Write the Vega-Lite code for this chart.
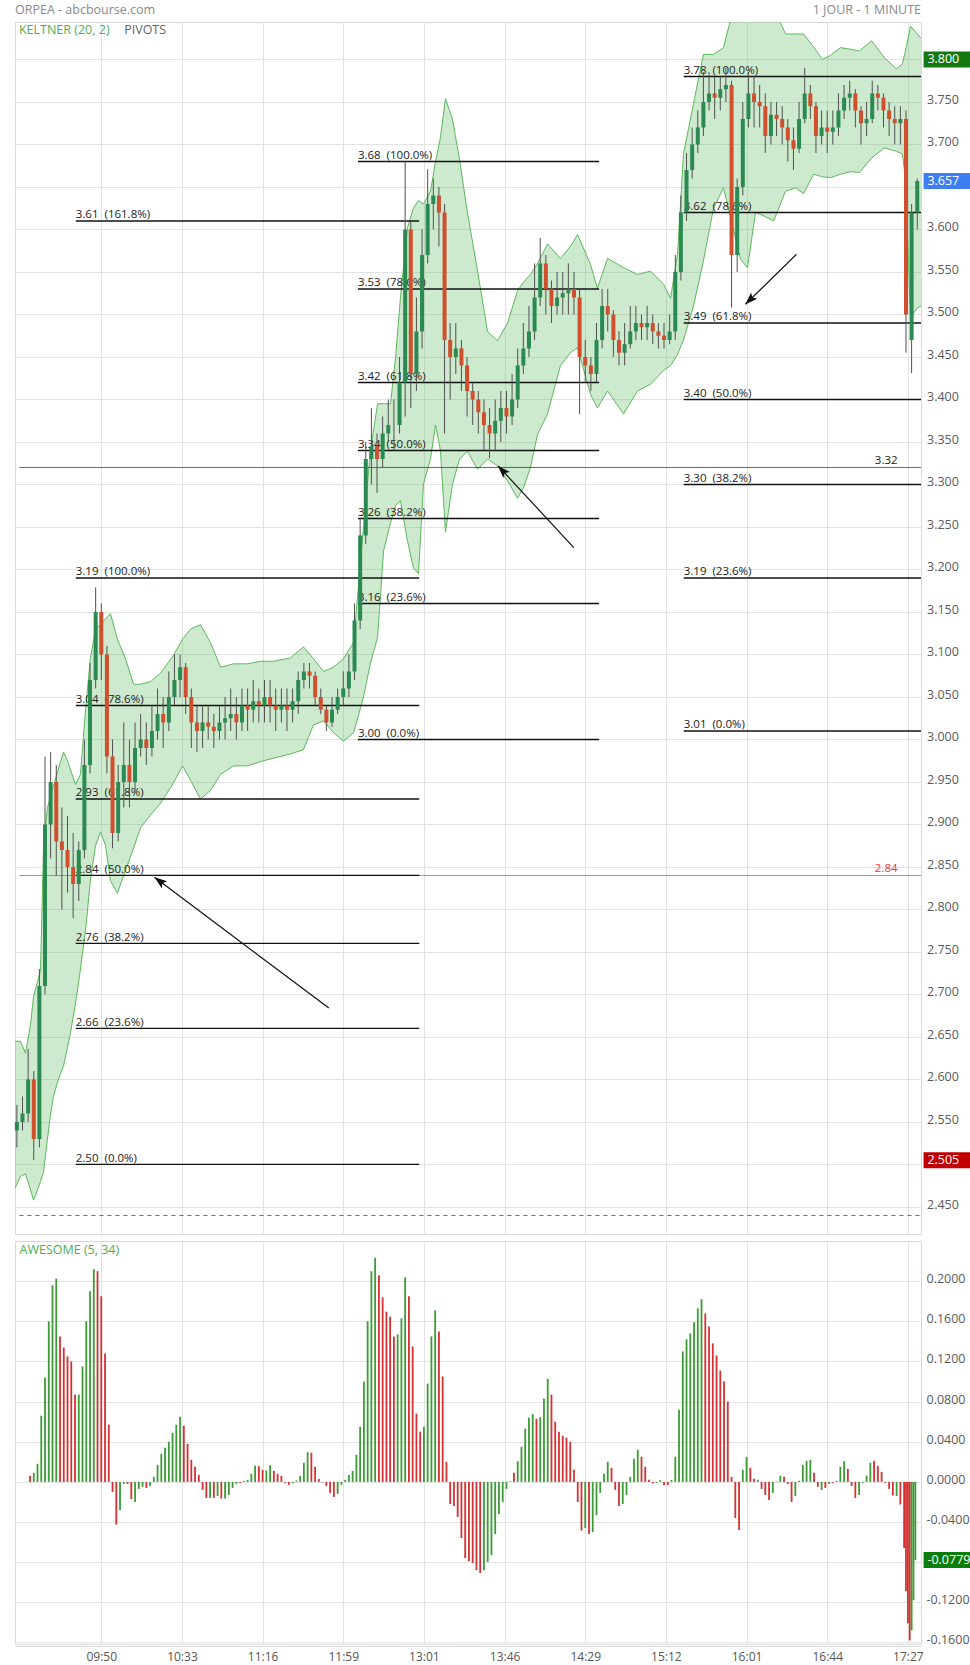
{
  "$schema": "https://vega.github.io/schema/vega-lite/v6.json",
  "background": "#ffffff",
  "padding": {"left": 14, "top": 3, "right": 0, "bottom": 0},
  "autosize": {"type": "pad"},
  "config": {
    "font": "Open Sans",
    "view": {"stroke": "#d9d9d9", "strokeWidth": 1},
    "axis": {"domain": false, "ticks": false, "tickSize": 0, "gridColor": "#e3e3e3", "gridWidth": 1, "labelFont": "Open Sans", "labelColor": "#5a5a5a", "labelFontSize": 12.5}
  },
  "spacing": 5,
  "datasets": {
    "candles": [
      {"i":1,"o":2.54,"h":2.57,"l":2.52,"c":2.55},{"i":4,"o":2.55,"h":2.58,"l":2.54,"c":2.56},{"i":7,"o":2.56,"h":2.636,"l":2.55,"c":2.6},{"i":10,"o":2.6,"h":2.61,"l":2.505,"c":2.53},
      {"i":13,"o":2.53,"h":2.73,"l":2.52,"c":2.71},{"i":16,"o":2.71,"h":2.98,"l":2.7,"c":2.9},{"i":19,"o":2.9,"h":2.985,"l":2.86,"c":2.95},{"i":22,"o":2.95,"h":2.97,"l":2.84,"c":2.88},
      {"i":25,"o":2.88,"h":2.92,"l":2.8,"c":2.87},{"i":28,"o":2.87,"h":2.91,"l":2.82,"c":2.85},{"i":31,"o":2.85,"h":2.89,"l":2.79,"c":2.83},{"i":34,"o":2.83,"h":2.88,"l":2.81,"c":2.87},
      {"i":37,"o":2.87,"h":3.0,"l":2.86,"c":2.97},{"i":40,"o":2.97,"h":3.09,"l":2.96,"c":3.07},{"i":43,"o":3.07,"h":3.179,"l":3.06,"c":3.15},{"i":46,"o":3.15,"h":3.16,"l":3.07,"c":3.1},
      {"i":49,"o":3.1,"h":3.11,"l":2.96,"c":2.98},{"i":52,"o":2.98,"h":3.0,"l":2.872,"c":2.89},{"i":55,"o":2.89,"h":2.97,"l":2.88,"c":2.95},{"i":58,"o":2.95,"h":3.02,"l":2.92,"c":2.97},
      {"i":61,"o":2.97,"h":3.0,"l":2.92,"c":2.95},{"i":64,"o":2.95,"h":3.02,"l":2.94,"c":2.99},{"i":67,"o":2.99,"h":3.03,"l":2.98,"c":3.0},{"i":70,"o":3.0,"h":3.02,"l":2.97,"c":2.99},
      {"i":73,"o":2.99,"h":3.04,"l":2.98,"c":3.01},{"i":76,"o":3.01,"h":3.06,"l":3.0,"c":3.03},{"i":79,"o":3.03,"h":3.05,"l":2.99,"c":3.02},{"i":82,"o":3.02,"h":3.08,"l":3.01,"c":3.05},
      {"i":85,"o":3.05,"h":3.1,"l":3.04,"c":3.07},{"i":88,"o":3.07,"h":3.1,"l":3.05,"c":3.085},{"i":91,"o":3.085,"h":3.09,"l":3.03,"c":3.05},{"i":94,"o":3.05,"h":3.06,"l":2.99,"c":3.02},
      {"i":97,"o":3.02,"h":3.04,"l":2.985,"c":3.01},{"i":100,"o":3.01,"h":3.04,"l":2.99,"c":3.02},{"i":103,"o":3.02,"h":3.04,"l":3.0,"c":3.015},{"i":106,"o":3.015,"h":3.03,"l":2.99,"c":3.01},
      {"i":109,"o":3.01,"h":3.04,"l":3.0,"c":3.02},{"i":112,"o":3.02,"h":3.05,"l":3.0,"c":3.025},{"i":115,"o":3.025,"h":3.06,"l":3.01,"c":3.03},{"i":118,"o":3.03,"h":3.05,"l":3.0,"c":3.02},
      {"i":121,"o":3.02,"h":3.06,"l":3.01,"c":3.04},{"i":124,"o":3.04,"h":3.06,"l":3.01,"c":3.035},{"i":127,"o":3.035,"h":3.07,"l":3.02,"c":3.045},{"i":130,"o":3.045,"h":3.06,"l":3.02,"c":3.04},
      {"i":133,"o":3.04,"h":3.07,"l":3.02,"c":3.05},{"i":136,"o":3.05,"h":3.07,"l":3.02,"c":3.04},{"i":139,"o":3.04,"h":3.06,"l":3.01,"c":3.035},{"i":142,"o":3.035,"h":3.06,"l":3.02,"c":3.04},
      {"i":145,"o":3.04,"h":3.06,"l":3.01,"c":3.035},{"i":148,"o":3.035,"h":3.06,"l":3.02,"c":3.045},{"i":151,"o":3.045,"h":3.08,"l":3.03,"c":3.07},{"i":154,"o":3.07,"h":3.09,"l":3.06,"c":3.08},
      {"i":157,"o":3.08,"h":3.09,"l":3.06,"c":3.075},{"i":160,"o":3.075,"h":3.08,"l":3.04,"c":3.05},{"i":163,"o":3.05,"h":3.06,"l":3.03,"c":3.035},{"i":166,"o":3.035,"h":3.04,"l":3.01,"c":3.02},
      {"i":169,"o":3.02,"h":3.05,"l":3.015,"c":3.035},{"i":172,"o":3.035,"h":3.06,"l":3.03,"c":3.05},{"i":175,"o":3.05,"h":3.08,"l":3.04,"c":3.06},{"i":178,"o":3.06,"h":3.1,"l":3.05,"c":3.08},
      {"i":181,"o":3.08,"h":3.16,"l":3.07,"c":3.14},{"i":184,"o":3.14,"h":3.26,"l":3.13,"c":3.24},{"i":187,"o":3.24,"h":3.35,"l":3.23,"c":3.33},{"i":190,"o":3.33,"h":3.39,"l":3.3,"c":3.345},
      {"i":193,"o":3.345,"h":3.36,"l":3.29,"c":3.33},{"i":196,"o":3.33,"h":3.38,"l":3.32,"c":3.36},{"i":199,"o":3.36,"h":3.4,"l":3.35,"c":3.37},{"i":202,"o":3.37,"h":3.4,"l":3.34,"c":3.37},
      {"i":205,"o":3.37,"h":3.45,"l":3.36,"c":3.42},{"i":208,"o":3.42,"h":3.68,"l":3.38,"c":3.6},{"i":211,"o":3.6,"h":3.61,"l":3.39,"c":3.43},{"i":214,"o":3.43,"h":3.52,"l":3.41,"c":3.48},
      {"i":217,"o":3.48,"h":3.6,"l":3.46,"c":3.57},{"i":220,"o":3.57,"h":3.671,"l":3.56,"c":3.63},{"i":223,"o":3.63,"h":3.66,"l":3.6,"c":3.64},{"i":226,"o":3.64,"h":3.65,"l":3.58,"c":3.62},
      {"i":229,"o":3.62,"h":3.63,"l":3.36,"c":3.47},{"i":232,"o":3.47,"h":3.49,"l":3.4,"c":3.45},{"i":235,"o":3.45,"h":3.49,"l":3.43,"c":3.46},{"i":238,"o":3.46,"h":3.47,"l":3.41,"c":3.44},
      {"i":241,"o":3.44,"h":3.45,"l":3.38,"c":3.41},{"i":244,"o":3.41,"h":3.42,"l":3.37,"c":3.4},{"i":247,"o":3.4,"h":3.41,"l":3.36,"c":3.385},{"i":250,"o":3.385,"h":3.4,"l":3.34,"c":3.37},
      {"i":253,"o":3.37,"h":3.39,"l":3.331,"c":3.36},{"i":256,"o":3.36,"h":3.4,"l":3.34,"c":3.375},{"i":259,"o":3.375,"h":3.41,"l":3.35,"c":3.39},{"i":262,"o":3.39,"h":3.41,"l":3.36,"c":3.38},
      {"i":265,"o":3.38,"h":3.43,"l":3.37,"c":3.4},{"i":268,"o":3.4,"h":3.46,"l":3.39,"c":3.44},{"i":271,"o":3.44,"h":3.49,"l":3.43,"c":3.46},{"i":274,"o":3.46,"h":3.51,"l":3.45,"c":3.48},
      {"i":277,"o":3.48,"h":3.56,"l":3.47,"c":3.52},{"i":280,"o":3.52,"h":3.59,"l":3.51,"c":3.56},{"i":283,"o":3.56,"h":3.57,"l":3.5,"c":3.53},{"i":286,"o":3.53,"h":3.54,"l":3.49,"c":3.51},
      {"i":289,"o":3.51,"h":3.55,"l":3.5,"c":3.52},{"i":292,"o":3.52,"h":3.55,"l":3.5,"c":3.525},{"i":295,"o":3.525,"h":3.56,"l":3.5,"c":3.53},{"i":298,"o":3.53,"h":3.55,"l":3.5,"c":3.52},
      {"i":301,"o":3.52,"h":3.53,"l":3.383,"c":3.45},{"i":304,"o":3.45,"h":3.47,"l":3.42,"c":3.44},{"i":307,"o":3.44,"h":3.45,"l":3.41,"c":3.43},{"i":310,"o":3.43,"h":3.49,"l":3.42,"c":3.47},
      {"i":313,"o":3.47,"h":3.53,"l":3.46,"c":3.51},{"i":316,"o":3.51,"h":3.53,"l":3.48,"c":3.5},{"i":319,"o":3.5,"h":3.505,"l":3.45,"c":3.47},{"i":322,"o":3.47,"h":3.48,"l":3.44,"c":3.455},
      {"i":325,"o":3.455,"h":3.49,"l":3.44,"c":3.465},{"i":328,"o":3.465,"h":3.51,"l":3.46,"c":3.48},{"i":331,"o":3.48,"h":3.51,"l":3.47,"c":3.49},{"i":334,"o":3.49,"h":3.5,"l":3.47,"c":3.485},
      {"i":337,"o":3.485,"h":3.51,"l":3.47,"c":3.49},{"i":340,"o":3.49,"h":3.5,"l":3.465,"c":3.48},{"i":343,"o":3.48,"h":3.49,"l":3.46,"c":3.475},{"i":346,"o":3.475,"h":3.49,"l":3.46,"c":3.47},
      {"i":349,"o":3.47,"h":3.5,"l":3.465,"c":3.48},{"i":352,"o":3.48,"h":3.57,"l":3.47,"c":3.55},{"i":355,"o":3.55,"h":3.64,"l":3.54,"c":3.62},{"i":358,"o":3.62,"h":3.69,"l":3.61,"c":3.67},
      {"i":361,"o":3.67,"h":3.72,"l":3.66,"c":3.7},{"i":364,"o":3.7,"h":3.74,"l":3.69,"c":3.72},{"i":367,"o":3.72,"h":3.785,"l":3.71,"c":3.75},{"i":370,"o":3.75,"h":3.785,"l":3.74,"c":3.76},
      {"i":373,"o":3.76,"h":3.78,"l":3.73,"c":3.755},{"i":376,"o":3.755,"h":3.78,"l":3.74,"c":3.765},{"i":379,"o":3.765,"h":3.79,"l":3.75,"c":3.77},{"i":382,"o":3.77,"h":3.775,"l":3.508,"c":3.57},
      {"i":385,"o":3.57,"h":3.66,"l":3.55,"c":3.65},{"i":388,"o":3.65,"h":3.75,"l":3.64,"c":3.73},{"i":391,"o":3.73,"h":3.785,"l":3.72,"c":3.76},{"i":394,"o":3.76,"h":3.78,"l":3.72,"c":3.75},
      {"i":397,"o":3.75,"h":3.77,"l":3.72,"c":3.745},{"i":400,"o":3.745,"h":3.76,"l":3.69,"c":3.71},{"i":403,"o":3.71,"h":3.75,"l":3.7,"c":3.735},{"i":406,"o":3.735,"h":3.75,"l":3.71,"c":3.73},
      {"i":409,"o":3.73,"h":3.745,"l":3.7,"c":3.72},{"i":412,"o":3.72,"h":3.73,"l":3.68,"c":3.705},{"i":415,"o":3.705,"h":3.72,"l":3.67,"c":3.695},{"i":418,"o":3.695,"h":3.75,"l":3.69,"c":3.73},
      {"i":421,"o":3.73,"h":3.79,"l":3.725,"c":3.76},{"i":424,"o":3.76,"h":3.77,"l":3.73,"c":3.745},{"i":427,"o":3.745,"h":3.75,"l":3.69,"c":3.71},{"i":430,"o":3.71,"h":3.74,"l":3.7,"c":3.72},
      {"i":433,"o":3.72,"h":3.74,"l":3.69,"c":3.715},{"i":436,"o":3.715,"h":3.74,"l":3.7,"c":3.72},{"i":439,"o":3.72,"h":3.76,"l":3.71,"c":3.74},{"i":442,"o":3.74,"h":3.77,"l":3.73,"c":3.755},
      {"i":445,"o":3.755,"h":3.775,"l":3.74,"c":3.76},{"i":448,"o":3.76,"h":3.765,"l":3.72,"c":3.74},{"i":451,"o":3.74,"h":3.745,"l":3.7,"c":3.725},{"i":454,"o":3.725,"h":3.75,"l":3.71,"c":3.73},
      {"i":457,"o":3.73,"h":3.775,"l":3.725,"c":3.76},{"i":460,"o":3.76,"h":3.77,"l":3.74,"c":3.755},{"i":463,"o":3.755,"h":3.76,"l":3.72,"c":3.74},{"i":466,"o":3.74,"h":3.75,"l":3.71,"c":3.73},
      {"i":469,"o":3.73,"h":3.745,"l":3.7,"c":3.725},{"i":472,"o":3.725,"h":3.745,"l":3.7,"c":3.73},{"i":475,"o":3.73,"h":3.74,"l":3.455,"c":3.5},{"i":478,"o":3.47,"h":3.63,"l":3.431,"c":3.62},
      {"i":481,"o":3.62,"h":3.66,"l":3.6,"c":3.657}
    ],
    "band": [
      {"i":0,"u":2.645,"l":2.472},{"i":2.9,"u":2.645,"l":2.486},{"i":5.6,"u":2.631,"l":2.489},{"i":8.3,"u":2.665,"l":2.47},{"i":9.9,"u":2.698,"l":2.458},
      {"i":12,"u":2.715,"l":2.47},{"i":13.6,"u":2.728,"l":2.48},{"i":15.2,"u":2.872,"l":2.491},{"i":17.3,"u":2.92,"l":2.53},{"i":18.9,"u":2.932,"l":2.558},
      {"i":20.5,"u":2.945,"l":2.58},{"i":22.7,"u":2.962,"l":2.597},{"i":24.3,"u":2.974,"l":2.607},{"i":25.9,"u":2.985,"l":2.616},{"i":28,"u":2.975,"l":2.638},
      {"i":29.6,"u":2.964,"l":2.655},{"i":32.3,"u":2.947,"l":2.69},{"i":34.9,"u":2.959,"l":2.73},{"i":37.6,"u":3.035,"l":2.775},{"i":40.2,"u":3.095,"l":2.834},
      {"i":42.9,"u":3.13,"l":2.875},{"i":45.6,"u":3.135,"l":2.891},{"i":48.2,"u":3.142,"l":2.876},{"i":50.9,"u":3.148,"l":2.834},{"i":54.6,"u":3.118,"l":2.819},
      {"i":58.9,"u":3.095,"l":2.846},{"i":63.2,"u":3.065,"l":2.872},{"i":66.9,"u":3.065,"l":2.896},{"i":72.2,"u":3.068,"l":2.911},{"i":77.6,"u":3.078,"l":2.925},
      {"i":84.5,"u":3.099,"l":2.949},{"i":89.3,"u":3.118,"l":2.969},{"i":93.6,"u":3.13,"l":2.952},{"i":98.9,"u":3.135,"l":2.93},{"i":104.2,"u":3.114,"l":2.94},
      {"i":109.6,"u":3.085,"l":2.959},{"i":116.5,"u":3.089,"l":2.969},{"i":123.9,"u":3.089,"l":2.969},{"i":130.9,"u":3.092,"l":2.974},{"i":137.8,"u":3.092,"l":2.978},
      {"i":146.9,"u":3.096,"l":2.983},{"i":153.8,"u":3.109,"l":2.988},{"i":159.1,"u":3.095,"l":3.017},{"i":164.5,"u":3.08,"l":3.022},{"i":169.8,"u":3.085,"l":3.008},
      {"i":175.1,"u":3.095,"l":2.998},{"i":180.5,"u":3.114,"l":3.008},{"i":185.8,"u":3.25,"l":3.05},{"i":189.5,"u":3.34,"l":3.09},{"i":193.3,"u":3.395,"l":3.12},
      {"i":196.5,"u":3.395,"l":3.222},{"i":200.2,"u":3.395,"l":3.255},{"i":202.9,"u":3.45,"l":3.275},{"i":205.5,"u":3.52,"l":3.281},{"i":209.2,"u":3.602,"l":3.234},
      {"i":212.4,"u":3.625,"l":3.202},{"i":215.1,"u":3.634,"l":3.195},{"i":217.8,"u":3.63,"l":3.301},{"i":221.5,"u":3.645,"l":3.33},{"i":224.2,"u":3.68,"l":3.37},
      {"i":226.8,"u":3.708,"l":3.34},{"i":229.5,"u":3.754,"l":3.244},{"i":233.2,"u":3.73,"l":3.3},{"i":237,"u":3.682,"l":3.33},{"i":241.2,"u":3.62,"l":3.339},
      {"i":246.6,"u":3.551,"l":3.318},{"i":251.9,"u":3.48,"l":3.33},{"i":257.2,"u":3.469,"l":3.322},{"i":262.6,"u":3.49,"l":3.304},{"i":267.9,"u":3.528,"l":3.284},
      {"i":271.1,"u":3.538,"l":3.296},{"i":274.8,"u":3.547,"l":3.32},{"i":278.6,"u":3.56,"l":3.359},{"i":283.9,"u":3.583,"l":3.383},{"i":290.8,"u":3.566,"l":3.44},
      {"i":296.1,"u":3.58,"l":3.455},{"i":299.9,"u":3.594,"l":3.461},{"i":306.8,"u":3.559,"l":3.406},{"i":310.5,"u":3.531,"l":3.39},{"i":315.9,"u":3.566,"l":3.41},
      {"i":324.4,"u":3.555,"l":3.383},{"i":331.9,"u":3.547,"l":3.41},{"i":338.8,"u":3.551,"l":3.418},{"i":345.7,"u":3.536,"l":3.434},{"i":349.5,"u":3.519,"l":3.44},
      {"i":353.2,"u":3.571,"l":3.453},{"i":356.4,"u":3.689,"l":3.47},{"i":361.7,"u":3.748,"l":3.51},{"i":367,"u":3.806,"l":3.563},{"i":372.4,"u":3.806,"l":3.625},
      {"i":377.7,"u":3.814,"l":3.649},{"i":383,"u":3.86,"l":3.6},{"i":386.8,"u":3.87,"l":3.565},{"i":390.5,"u":3.87,"l":3.555},{"i":394.8,"u":3.87,"l":3.62},
      {"i":400.1,"u":3.87,"l":3.615},{"i":404.4,"u":3.86,"l":3.61},{"i":410.8,"u":3.83,"l":3.645},{"i":416.1,"u":3.83,"l":3.649},{"i":420.4,"u":3.83,"l":3.642},
      {"i":425.7,"u":3.815,"l":3.665},{"i":430.5,"u":3.8,"l":3.662},{"i":434.8,"u":3.805,"l":3.661},{"i":440.1,"u":3.814,"l":3.665},{"i":445.4,"u":3.812,"l":3.668},
      {"i":450.2,"u":3.81,"l":3.667},{"i":456.6,"u":3.822,"l":3.684},{"i":463.5,"u":3.802,"l":3.696},{"i":469.9,"u":3.789,"l":3.692},{"i":473.1,"u":3.795,"l":3.689},
      {"i":474.7,"u":3.81,"l":3.66},{"i":477.4,"u":3.839,"l":3.496},{"i":481.1,"u":3.83,"l":3.508},{"i":483,"u":3.825,"l":3.51}
    ],
    "ao": [
      {"i":8,"v":0.006,"m":"d"},{"i":10,"v":0.009,"m":"u"},{"i":12,"v":0.018,"m":"u"},{"i":14,"v":0.066,"m":"u"},{"i":16,"v":0.104,"m":"u"},{"i":18,"v":0.16,"m":"u"},
      {"i":20,"v":0.196,"m":"u"},{"i":22,"v":0.2025,"m":"u"},{"i":24,"v":0.145,"m":"d"},{"i":26,"v":0.134,"m":"d"},{"i":28,"v":0.125,"m":"d"},{"i":30,"v":0.12,"m":"d"},
      {"i":32,"v":0.087,"m":"d"},{"i":34,"v":0.087,"m":"u"},{"i":36,"v":0.115,"m":"u"},{"i":38,"v":0.16,"m":"u"},{"i":40,"v":0.19,"m":"u"},{"i":42,"v":0.212,"m":"u"},
      {"i":44,"v":0.21,"m":"d"},{"i":46,"v":0.185,"m":"d"},{"i":48,"v":0.128,"m":"d"},{"i":50,"v":0.057,"m":"d"},{"i":52,"v":-0.01,"m":"d"},{"i":54,"v":-0.0426,"m":"d"},
      {"i":56,"v":-0.028,"m":"u"},{"i":58,"v":-0.002,"m":"u"},{"i":60,"v":-0.002,"m":"d"},{"i":62,"v":-0.017,"m":"d"},{"i":64,"v":-0.02,"m":"u"},{"i":66,"v":-0.007,"m":"u"},
      {"i":68,"v":-0.005,"m":"u"},{"i":70,"v":-0.006,"m":"d"},{"i":72,"v":-0.004,"m":"u"},{"i":74,"v":0.005,"m":"u"},{"i":76,"v":0.017,"m":"u"},{"i":78,"v":0.028,"m":"u"},
      {"i":80,"v":0.034,"m":"u"},{"i":82,"v":0.04,"m":"u"},{"i":84,"v":0.049,"m":"u"},{"i":86,"v":0.057,"m":"u"},{"i":88,"v":0.065,"m":"u"},{"i":90,"v":0.056,"m":"d"},
      {"i":92,"v":0.038,"m":"d"},{"i":94,"v":0.022,"m":"d"},{"i":96,"v":0.015,"m":"d"},{"i":98,"v":0.007,"m":"d"},{"i":100,"v":-0.008,"m":"d"},{"i":102,"v":-0.016,"m":"d"},
      {"i":104,"v":-0.016,"m":"u"},{"i":106,"v":-0.016,"m":"d"},{"i":108,"v":-0.014,"m":"u"},{"i":110,"v":-0.0166,"m":"d"},{"i":112,"v":-0.0166,"m":"u"},{"i":114,"v":-0.013,"m":"u"},
      {"i":116,"v":-0.006,"m":"u"},{"i":118,"v":-0.002,"m":"u"},{"i":120,"v":-0.001,"m":"d"},{"i":122,"v":0.001,"m":"u"},{"i":124,"v":0.002,"m":"u"},{"i":126,"v":0.008,"m":"u"},
      {"i":128,"v":0.016,"m":"u"},{"i":130,"v":0.0156,"m":"d"},{"i":132,"v":0.012,"m":"d"},{"i":134,"v":0.0115,"m":"u"},{"i":136,"v":0.0166,"m":"u"},{"i":138,"v":0.011,"m":"d"},
      {"i":140,"v":0.008,"m":"d"},{"i":142,"v":0.006,"m":"d"},{"i":144,"v":-0.001,"m":"d"},{"i":146,"v":-0.003,"m":"d"},{"i":148,"v":-0.0015,"m":"u"},{"i":150,"v":0.0013,"m":"u"},
      {"i":152,"v":0.006,"m":"u"},{"i":154,"v":0.019,"m":"u"},{"i":156,"v":0.0296,"m":"u"},{"i":158,"v":0.029,"m":"d"},{"i":160,"v":0.015,"m":"d"},{"i":162,"v":0.003,"m":"d"},
      {"i":164,"v":-0.0005,"m":"d"},{"i":166,"v":-0.004,"m":"d"},{"i":168,"v":-0.011,"m":"d"},{"i":170,"v":-0.015,"m":"d"},{"i":172,"v":-0.012,"m":"u"},{"i":174,"v":-0.003,"m":"u"},
      {"i":176,"v":0.002,"m":"u"},{"i":178,"v":0.007,"m":"u"},{"i":180,"v":0.011,"m":"u"},{"i":182,"v":0.027,"m":"u"},{"i":184,"v":0.055,"m":"u"},{"i":186,"v":0.1,"m":"u"},
      {"i":188,"v":0.16,"m":"u"},{"i":190,"v":0.21,"m":"u"},{"i":192,"v":0.2234,"m":"u"},{"i":194,"v":0.206,"m":"d"},{"i":196,"v":0.184,"m":"d"},{"i":198,"v":0.1696,"m":"d"},
      {"i":200,"v":0.1646,"m":"d"},{"i":202,"v":0.145,"m":"d"},{"i":204,"v":0.147,"m":"u"},{"i":206,"v":0.163,"m":"u"},{"i":208,"v":0.204,"m":"u"},{"i":210,"v":0.185,"m":"d"},
      {"i":212,"v":0.135,"m":"d"},{"i":214,"v":0.068,"m":"d"},{"i":216,"v":0.05,"m":"d"},{"i":218,"v":0.055,"m":"u"},{"i":220,"v":0.098,"m":"u"},{"i":222,"v":0.145,"m":"u"},
      {"i":224,"v":0.171,"m":"u"},{"i":226,"v":0.15,"m":"d"},{"i":228,"v":0.105,"m":"d"},{"i":230,"v":0.02,"m":"d"},{"i":232,"v":-0.022,"m":"d"},{"i":234,"v":-0.024,"m":"d"},
      {"i":236,"v":-0.035,"m":"d"},{"i":238,"v":-0.056,"m":"d"},{"i":240,"v":-0.076,"m":"d"},{"i":242,"v":-0.079,"m":"d"},{"i":244,"v":-0.081,"m":"d"},{"i":246,"v":-0.088,"m":"d"},
      {"i":248,"v":-0.0908,"m":"d"},{"i":250,"v":-0.088,"m":"u"},{"i":252,"v":-0.08,"m":"u"},{"i":254,"v":-0.073,"m":"u"},{"i":256,"v":-0.052,"m":"u"},{"i":258,"v":-0.032,"m":"u"},
      {"i":260,"v":-0.02,"m":"u"},{"i":262,"v":-0.007,"m":"u"},{"i":264,"v":0.0007,"m":"u"},{"i":266,"v":0.009,"m":"d"},{"i":268,"v":0.0206,"m":"u"},{"i":270,"v":0.035,"m":"u"},
      {"i":272,"v":0.053,"m":"u"},{"i":274,"v":0.064,"m":"u"},{"i":276,"v":0.0675,"m":"u"},{"i":278,"v":0.063,"m":"d"},{"i":280,"v":0.0645,"m":"u"},{"i":282,"v":0.083,"m":"u"},
      {"i":284,"v":0.1027,"m":"u"},{"i":286,"v":0.087,"m":"d"},{"i":288,"v":0.06,"m":"d"},{"i":290,"v":0.05,"m":"d"},{"i":292,"v":0.046,"m":"d"},{"i":294,"v":0.044,"m":"d"},
      {"i":296,"v":0.04,"m":"d"},{"i":298,"v":0.012,"m":"d"},{"i":300,"v":-0.02,"m":"d"},{"i":302,"v":-0.0485,"m":"d"},{"i":304,"v":-0.046,"m":"u"},{"i":306,"v":-0.052,"m":"d"},
      {"i":308,"v":-0.05,"m":"u"},{"i":310,"v":-0.033,"m":"u"},{"i":312,"v":-0.011,"m":"u"},{"i":314,"v":0.008,"m":"u"},{"i":316,"v":0.02,"m":"u"},{"i":318,"v":0.014,"m":"d"},
      {"i":320,"v":-0.008,"m":"d"},{"i":322,"v":-0.024,"m":"d"},{"i":324,"v":-0.022,"m":"u"},{"i":326,"v":-0.013,"m":"u"},{"i":328,"v":0.005,"m":"u"},{"i":330,"v":0.023,"m":"u"},
      {"i":332,"v":0.032,"m":"u"},{"i":334,"v":0.025,"m":"d"},{"i":336,"v":0.015,"m":"d"},{"i":338,"v":0.002,"m":"d"},{"i":340,"v":-0.0015,"m":"d"},{"i":342,"v":-0.001,"m":"u"},
      {"i":344,"v":0.0017,"m":"u"},{"i":346,"v":-0.0033,"m":"d"},{"i":348,"v":-0.0033,"m":"d"},{"i":350,"v":0.002,"m":"u"},{"i":352,"v":0.025,"m":"u"},{"i":354,"v":0.072,"m":"u"},
      {"i":356,"v":0.13,"m":"u"},{"i":358,"v":0.142,"m":"u"},{"i":360,"v":0.148,"m":"u"},{"i":362,"v":0.159,"m":"u"},{"i":364,"v":0.173,"m":"u"},{"i":366,"v":0.182,"m":"u"},
      {"i":368,"v":0.168,"m":"d"},{"i":370,"v":0.155,"m":"d"},{"i":372,"v":0.138,"m":"d"},{"i":374,"v":0.126,"m":"d"},{"i":376,"v":0.111,"m":"d"},{"i":378,"v":0.1,"m":"d"},
      {"i":380,"v":0.08,"m":"d"},{"i":382,"v":0.005,"m":"d"},{"i":384,"v":-0.036,"m":"d"},{"i":386,"v":-0.048,"m":"d"},{"i":388,"v":0.012,"m":"u"},{"i":390,"v":0.025,"m":"u"},
      {"i":392,"v":0.014,"m":"d"},{"i":394,"v":0.003,"m":"d"},{"i":396,"v":0.002,"m":"u"},{"i":398,"v":-0.007,"m":"d"},{"i":400,"v":-0.013,"m":"d"},{"i":402,"v":-0.018,"m":"d"},
      {"i":404,"v":-0.011,"m":"u"},{"i":406,"v":0.0005,"m":"u"},{"i":408,"v":0.006,"m":"u"},{"i":410,"v":0.005,"m":"d"},{"i":412,"v":-0.002,"m":"d"},{"i":414,"v":-0.02,"m":"d"},
      {"i":416,"v":-0.014,"m":"u"},{"i":418,"v":0.001,"m":"u"},{"i":420,"v":0.017,"m":"u"},{"i":422,"v":0.021,"m":"u"},{"i":424,"v":0.022,"m":"u"},{"i":426,"v":0.009,"m":"d"},
      {"i":428,"v":-0.005,"m":"d"},{"i":430,"v":-0.008,"m":"u"},{"i":432,"v":-0.006,"m":"d"},{"i":434,"v":-0.002,"m":"u"},{"i":436,"v":-0.001,"m":"d"},{"i":438,"v":0.001,"m":"u"},
      {"i":440,"v":0.015,"m":"u"},{"i":442,"v":0.0206,"m":"u"},{"i":444,"v":0.013,"m":"d"},{"i":446,"v":-0.004,"m":"d"},{"i":448,"v":-0.016,"m":"d"},{"i":450,"v":-0.013,"m":"u"},
      {"i":452,"v":-0.001,"m":"u"},{"i":454,"v":0.0063,"m":"u"},{"i":456,"v":0.019,"m":"u"},{"i":458,"v":0.021,"m":"d"},{"i":460,"v":0.016,"m":"d"},{"i":462,"v":0.01,"m":"d"},
      {"i":464,"v":-0.001,"m":"d"},{"i":466,"v":-0.007,"m":"d"},{"i":468,"v":-0.0136,"m":"d"},{"i":470,"v":-0.014,"m":"u"},{"i":472,"v":-0.0226,"m":"d"},{"i":474,"v":-0.066,"m":"d"},
      {"i":475,"v":-0.109,"m":"d"},{"i":476,"v":-0.141,"m":"d"},{"i":477,"v":-0.158,"m":"d"},{"i":478,"v":-0.148,"m":"u"},{"i":479,"v":-0.118,"m":"u"},{"i":480,"v":-0.0779,"m":"u"}
    ],
    "fib": [
      {"v":3.61,"lab":"3.61\u00a0 (161.8%)","a":32.4,"b":215.5},
      {"v":3.19,"lab":"3.19\u00a0 (100.0%)","a":32.4,"b":215.5},
      {"v":3.04,"lab":"3.04\u00a0 (78.6%)","a":32.4,"b":215.5},
      {"v":2.93,"lab":"2.93\u00a0 (61.8%)","a":32.4,"b":215.5},
      {"v":2.84,"lab":"2.84\u00a0 (50.0%)","a":32.4,"b":215.5},
      {"v":2.76,"lab":"2.76\u00a0 (38.2%)","a":32.4,"b":215.5},
      {"v":2.66,"lab":"2.66\u00a0 (23.6%)","a":32.4,"b":215.5},
      {"v":2.5,"lab":"2.50\u00a0 (0.0%)","a":32.4,"b":215.5},
      {"v":3.68,"lab":"3.68\u00a0 (100.0%)","a":182.8,"b":311.4},
      {"v":3.53,"lab":"3.53\u00a0 (78.6%)","a":182.8,"b":311.4},
      {"v":3.42,"lab":"3.42\u00a0 (61.8%)","a":182.8,"b":311.4},
      {"v":3.34,"lab":"3.34\u00a0 (50.0%)","a":182.8,"b":311.4},
      {"v":3.26,"lab":"3.26\u00a0 (38.2%)","a":182.8,"b":311.4},
      {"v":3.16,"lab":"3.16\u00a0 (23.6%)","a":182.8,"b":311.4},
      {"v":3.0,"lab":"3.00\u00a0 (0.0%)","a":182.8,"b":311.4},
      {"v":3.78,"lab":"3.78\u00a0 (100.0%)","a":356.5,"b":483},
      {"v":3.62,"lab":"3.62\u00a0 (78.6%)","a":356.5,"b":483},
      {"v":3.49,"lab":"3.49\u00a0 (61.8%)","a":356.5,"b":483},
      {"v":3.4,"lab":"3.40\u00a0 (50.0%)","a":356.5,"b":483},
      {"v":3.3,"lab":"3.30\u00a0 (38.2%)","a":356.5,"b":483},
      {"v":3.19,"lab":"3.19\u00a0 (23.6%)","a":356.5,"b":483},
      {"v":3.01,"lab":"3.01\u00a0 (0.0%)","a":356.5,"b":483}
    ],
    "levels": [
      {"v":3.32,"k":"pivot"},
      {"v":2.84,"k":"prev"},
      {"v":2.44,"k":"limit"}
    ],
    "arrows": [
      {"x0":167.3,"y0":2.6841,"x1":74.4,"y1":2.8378,"deg":306.8},
      {"x0":297.9,"y0":3.2257,"x1":257.6,"y1":3.3218,"deg":317.2},
      {"x0":416.6,"y0":3.5708,"x1":389.4,"y1":3.512,"deg":225.6}
    ],
    "tags": [
      {"v":3.8,"t":"3.800","k":"hi"},
      {"v":3.657,"t":"3.657","k":"last"},
      {"v":2.505,"t":"2.505","k":"lo"}
    ],
    "aotag": [
      {"v":-0.0779,"t":"-0.0779"}
    ]
  },
  "vconcat": [
    {
      "width": 906,
      "height": 1212,
      "layer": [
        {
          "data": {"name": "band"},
          "mark": {"type": "area", "color": "#5cb85c", "opacity": 0.3, "clip": true},
          "encoding": {
            "x": {"field": "i", "type": "quantitative", "title": null,
                  "scale": {"domain": [0, 483], "nice": false, "zero": false, "padding": 0},
                  "axis": {"orient": "bottom", "title": null, "values": [46, 89, 132, 175, 218, 261, 304, 347, 390, 433, 476], "labels": false, "grid": true}},
            "y": {"field": "u", "type": "quantitative", "title": null,
                  "scale": {"domain": [2.4182, 3.8441], "nice": false, "zero": false},
                  "axis": {"orient": "right", "title": null, "grid": true, "labelPadding": 5.5, "labelOffset": -2.5,
                           "values": [2.45, 2.5, 2.55, 2.6, 2.65, 2.7, 2.75, 2.8, 2.85, 2.9, 2.95, 3.0, 3.05, 3.1, 3.15, 3.2, 3.25, 3.3, 3.35, 3.4, 3.45, 3.5, 3.55, 3.6, 3.65, 3.7, 3.75, 3.8],
                           "labelExpr": "(abs(datum.value-3.8)<0.001 || abs(datum.value-3.65)<0.001 || abs(datum.value-2.5)<0.001) ? '' : format(datum.value, '.3f')"}},
            "y2": {"field": "l"}
          }
        },
        {
          "data": {"name": "band"},
          "mark": {"type": "line", "color": "#5cb85c", "strokeWidth": 1, "clip": true},
          "encoding": {
            "x": {"field": "i", "type": "quantitative", "title": null, "scale": {"domain": [0, 483], "nice": false, "zero": false, "padding": 0}},
            "y": {"field": "u", "type": "quantitative", "title": null, "scale": {"domain": [2.4182, 3.8441], "nice": false, "zero": false}}
          }
        },
        {
          "data": {"name": "band"},
          "mark": {"type": "line", "color": "#5cb85c", "strokeWidth": 1, "clip": true},
          "encoding": {
            "x": {"field": "i", "type": "quantitative", "title": null, "scale": {"domain": [0, 483], "nice": false, "zero": false, "padding": 0}},
            "y": {"field": "l", "type": "quantitative", "title": null, "scale": {"domain": [2.4182, 3.8441], "nice": false, "zero": false}}
          }
        },
        {
          "data": {"name": "levels"},
          "mark": {"type": "rule", "strokeWidth": 1},
          "encoding": {
            "x": {"datum": 2.4, "type": "quantitative", "scale": {"domain": [0, 483], "nice": false, "zero": false, "padding": 0}},
            "x2": {"datum": 483},
            "y": {"field": "v", "type": "quantitative", "title": null, "scale": {"domain": [2.4182, 3.8441], "nice": false, "zero": false}},
            "stroke": {"condition": [{"test": "datum.k === 'pivot'", "value": "#3a3a3a"}, {"test": "datum.k === 'prev'", "value": "#ff4040"}], "value": "#e53935"},
            "strokeDash": {"condition": {"test": "datum.k === 'limit'", "value": [4, 4]}, "value": [1, 0]}
          }
        },
        {
          "data": {"name": "levels"},
          "transform": [{"filter": "datum.k !== 'limit'"}],
          "mark": {"type": "text", "align": "right", "baseline": "alphabetic", "dy": -3, "fontSize": 11.5},
          "encoding": {
            "x": {"datum": 470.5, "type": "quantitative", "scale": {"domain": [0, 483], "nice": false, "zero": false, "padding": 0}},
            "y": {"field": "v", "type": "quantitative", "title": null, "scale": {"domain": [2.4182, 3.8441], "nice": false, "zero": false}},
            "text": {"field": "v", "type": "quantitative", "format": ".2f"},
            "color": {"condition": {"test": "datum.k === 'pivot'", "value": "#222222"}, "value": "#ff3030"}
          }
        },
        {
          "data": {"name": "fib"},
          "mark": {"type": "rule", "color": "#111111", "strokeWidth": 1.3},
          "encoding": {
            "x": {"field": "a", "type": "quantitative", "title": null, "scale": {"domain": [0, 483], "nice": false, "zero": false, "padding": 0}},
            "x2": {"field": "b"},
            "y": {"field": "v", "type": "quantitative", "title": null, "scale": {"domain": [2.4182, 3.8441], "nice": false, "zero": false}}
          }
        },
        {
          "data": {"name": "fib"},
          "mark": {"type": "text", "align": "left", "baseline": "alphabetic", "dy": -2.5, "fontSize": 11.5, "color": "#222222"},
          "encoding": {
            "x": {"field": "a", "type": "quantitative", "title": null, "scale": {"domain": [0, 483], "nice": false, "zero": false, "padding": 0}},
            "y": {"field": "v", "type": "quantitative", "title": null, "scale": {"domain": [2.4182, 3.8441], "nice": false, "zero": false}},
            "text": {"field": "lab"}
          }
        },
        {
          "data": {"name": "candles"},
          "mark": {"type": "rule", "color": "#505050", "strokeWidth": 1},
          "encoding": {
            "x": {"field": "i", "type": "quantitative", "title": null, "scale": {"domain": [0, 483], "nice": false, "zero": false, "padding": 0}},
            "y": {"field": "l", "type": "quantitative", "title": null, "scale": {"domain": [2.4182, 3.8441], "nice": false, "zero": false}},
            "y2": {"field": "h"}
          }
        },
        {
          "data": {"name": "candles"},
          "mark": {"type": "bar", "width": 4},
          "encoding": {
            "x": {"field": "i", "type": "quantitative", "title": null, "scale": {"domain": [0, 483], "nice": false, "zero": false, "padding": 0}},
            "y": {"field": "o", "type": "quantitative", "title": null, "scale": {"domain": [2.4182, 3.8441], "nice": false, "zero": false}},
            "y2": {"field": "c"},
            "color": {"condition": {"test": "datum.c >= datum.o", "value": "#2a8a52"}, "value": "#cf4f2f"}
          }
        },
        {
          "data": {"name": "arrows"},
          "mark": {"type": "rule", "color": "#111111", "strokeWidth": 1.2},
          "encoding": {
            "x": {"field": "x0", "type": "quantitative", "title": null, "scale": {"domain": [0, 483], "nice": false, "zero": false, "padding": 0}},
            "x2": {"field": "x1"},
            "y": {"field": "y0", "type": "quantitative", "title": null, "scale": {"domain": [2.4182, 3.8441], "nice": false, "zero": false}},
            "y2": {"field": "y1"}
          }
        },
        {
          "data": {"name": "arrows"},
          "mark": {"type": "point", "shape": "M0,0L0.42,1.15L0,0.9L-0.42,1.15Z", "filled": true, "size": 460, "color": "#111111", "opacity": 1},
          "encoding": {
            "x": {"field": "x1", "type": "quantitative", "title": null, "scale": {"domain": [0, 483], "nice": false, "zero": false, "padding": 0}},
            "y": {"field": "y1", "type": "quantitative", "title": null, "scale": {"domain": [2.4182, 3.8441], "nice": false, "zero": false}},
            "angle": {"field": "deg", "type": "quantitative", "scale": null}
          }
        },
        {
          "data": {"name": "tags"},
          "mark": {"type": "point", "shape": "M-1,-0.34L1,-0.34L1,0.34L-1,0.34Z", "filled": true, "size": 2209, "opacity": 1},
          "encoding": {
            "x": {"datum": 496.9, "type": "quantitative", "scale": {"domain": [0, 483], "nice": false, "zero": false, "padding": 0}},
            "y": {"field": "v", "type": "quantitative", "title": null, "scale": {"domain": [2.4182, 3.8441], "nice": false, "zero": false}},
            "fill": {"condition": [{"test": "datum.k === 'hi'", "value": "#137a13"}, {"test": "datum.k === 'last'", "value": "#3d7ef5"}], "value": "#c00000"}
          }
        },
        {
          "data": {"name": "tags"},
          "mark": {"type": "text", "align": "left", "baseline": "middle", "fontSize": 12.5, "color": "#ffffff"},
          "encoding": {
            "x": {"datum": 486.4, "type": "quantitative", "scale": {"domain": [0, 483], "nice": false, "zero": false, "padding": 0}},
            "y": {"field": "v", "type": "quantitative", "title": null, "scale": {"domain": [2.4182, 3.8441], "nice": false, "zero": false}},
            "text": {"field": "t"}
          }
        },
        {
          "data": {"values": [{"t": "ORPEA - abcbourse.com"}]},
          "mark": {"type": "text", "align": "left", "baseline": "middle", "fontSize": 12.5, "color": "#8a8a8a"},
          "encoding": {
            "x": {"datum": 0, "type": "quantitative", "scale": {"domain": [0, 483], "nice": false, "zero": false, "padding": 0}},
            "y": {"datum": 3.8582, "type": "quantitative", "scale": {"domain": [2.4182, 3.8441], "nice": false, "zero": false}},
            "text": {"field": "t"}
          }
        },
        {
          "data": {"values": [{"t": "1 JOUR - 1 MINUTE"}]},
          "mark": {"type": "text", "align": "right", "baseline": "middle", "fontSize": 12.5, "color": "#8a8a8a"},
          "encoding": {
            "x": {"datum": 483, "type": "quantitative", "scale": {"domain": [0, 483], "nice": false, "zero": false, "padding": 0}},
            "y": {"datum": 3.8582, "type": "quantitative", "scale": {"domain": [2.4182, 3.8441], "nice": false, "zero": false}},
            "text": {"field": "t"}
          }
        },
        {
          "data": {"values": [{"t": "KELTNER (20, 2)"}]},
          "mark": {"type": "text", "align": "left", "baseline": "middle", "fontSize": 12.5, "color": "#4caf50"},
          "encoding": {
            "x": {"datum": 2.1, "type": "quantitative", "scale": {"domain": [0, 483], "nice": false, "zero": false, "padding": 0}},
            "y": {"datum": 3.8343, "type": "quantitative", "scale": {"domain": [2.4182, 3.8441], "nice": false, "zero": false}},
            "text": {"field": "t"}
          }
        },
        {
          "data": {"values": [{"t": "PIVOTS"}]},
          "mark": {"type": "text", "align": "left", "baseline": "middle", "fontSize": 12.5, "color": "#666666"},
          "encoding": {
            "x": {"datum": 58.2, "type": "quantitative", "scale": {"domain": [0, 483], "nice": false, "zero": false, "padding": 0}},
            "y": {"datum": 3.8343, "type": "quantitative", "scale": {"domain": [2.4182, 3.8441], "nice": false, "zero": false}},
            "text": {"field": "t"}
          }
        }
      ]
    },
    {
      "width": 906,
      "height": 403,
      "layer": [
        {
          "data": {"name": "ao"},
          "mark": {"type": "rule", "strokeWidth": 1.8},
          "encoding": {
            "x": {"field": "i", "type": "quantitative", "title": null,
                  "scale": {"domain": [0, 483], "nice": false, "zero": false, "padding": 0},
                  "axis": {"orient": "bottom", "title": null, "values": [46, 89, 132, 175, 218, 261, 304, 347, 390, 433, 476], "grid": true,
                           "domain": true, "domainColor": "#d9d9d9", "offset": 2, "labelPadding": 5, "labelColor": "#555555", "labelFontSize": 12,
                           "labelExpr": "['09:50','10:33','11:16','11:59','13:01','13:46','14:29','15:12','16:01','16:44','17:27'][indexof([46,89,132,175,218,261,304,347,390,433,476], datum.value)]"}},
            "y": {"field": "v", "type": "quantitative", "title": null,
                  "scale": {"domain": [-0.1616, 0.2401], "nice": false, "zero": false},
                  "axis": {"orient": "right", "title": null, "grid": true, "labelPadding": 5, "labelOffset": -2.5,
                           "values": [-0.16, -0.12, -0.08, -0.04, 0, 0.04, 0.08, 0.12, 0.16, 0.2],
                           "labelExpr": "abs(datum.value+0.08)<0.001 ? '' : replace(format(datum.value, '.4f'), '\u2212', '-')"}},
            "y2": {"datum": 0},
            "stroke": {"condition": {"test": "datum.m === 'u'", "value": "#3a9c33"}, "value": "#d63030"}
          }
        },
        {
          "data": {"values": [{"t": "AWESOME (5, 34)"}]},
          "mark": {"type": "text", "align": "left", "baseline": "middle", "fontSize": 12.5, "color": "#4caf50"},
          "encoding": {
            "x": {"datum": 2.4, "type": "quantitative", "scale": {"domain": [0, 483], "nice": false, "zero": false, "padding": 0}},
            "y": {"datum": 0.2311, "type": "quantitative", "scale": {"domain": [-0.1616, 0.2401], "nice": false, "zero": false}},
            "text": {"field": "t"}
          }
        },
        {
          "data": {"name": "aotag"},
          "mark": {"type": "point", "shape": "M-1,-0.34L1,-0.34L1,0.34L-1,0.34Z", "filled": true, "size": 2209, "opacity": 1, "color": "#0a7d0a"},
          "encoding": {
            "x": {"datum": 496.9, "type": "quantitative", "scale": {"domain": [0, 483], "nice": false, "zero": false, "padding": 0}},
            "y": {"field": "v", "type": "quantitative", "title": null, "scale": {"domain": [-0.1616, 0.2401], "nice": false, "zero": false}}
          }
        },
        {
          "data": {"name": "aotag"},
          "mark": {"type": "text", "align": "left", "baseline": "middle", "fontSize": 12.5, "color": "#ffffff"},
          "encoding": {
            "x": {"datum": 486.4, "type": "quantitative", "scale": {"domain": [0, 483], "nice": false, "zero": false, "padding": 0}},
            "y": {"field": "v", "type": "quantitative", "title": null, "scale": {"domain": [-0.1616, 0.2401], "nice": false, "zero": false}},
            "text": {"field": "t"}
          }
        }
      ]
    }
  ]
}
